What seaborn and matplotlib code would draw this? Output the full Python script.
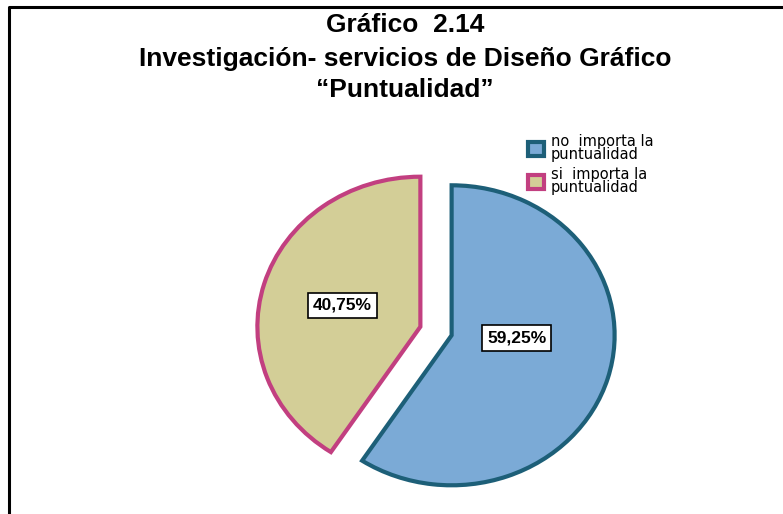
import matplotlib.pyplot as plt
import seaborn as sns
from matplotlib.lines import Line2D

# Datos
categorias = ['no  importa la\npuntualidad', 'si  importa la\npuntualidad']
porcentajes = [59.25, 40.75]
colores = ['#7BAAD6', '#D3CE97']
bordes = ['#1D5F78', '#C23F80']
titulo = ['Gráfico  2.14',
          'Investigación- servicios de Diseño Gráfico',
          '“Puntualidad”']

sns.set_theme(style='white')
plt.rcParams['font.family'] = ['Liberation Sans', 'DejaVu Sans']
plt.rcParams['text.color'] = 'black'

W, H = 783, 514
fig = plt.figure(figsize=(W / 100, H / 100), dpi=100)

# -------------------------------------------------------
# Pie (slightly wider than tall, like the original)
# -------------------------------------------------------
cx, cy, rx, ry = 436, 331, 163, 150
ax = fig.add_axes([(cx - 1.5 * rx) / W, (H - cy - 1.5 * ry) / H, 3 * rx / W, 3 * ry / H])

wedges, texts, autotexts = ax.pie(
    porcentajes, explode=[0.1, 0.1], startangle=90, counterclock=False,
    colors=colores, pctdistance=0.5,
    autopct=lambda p: f'{p:.2f}%'.replace('.', ','),
    wedgeprops=dict(linewidth=3),
    textprops=dict(fontsize=12.5, fontweight='bold', color='black'))
for w, b in zip(wedges, bordes):
    w.set_edgecolor(b)
for t in autotexts:
    t.set_bbox(dict(boxstyle='square,pad=0.3', fc='white', ec='black', lw=1.2))
# nudge the blue label toward the centre line of the slice
x0, y0 = autotexts[0].get_position()
autotexts[0].set_position((x0 - 0.08, y0 + 0.125))

ax.set_xlim(-1.5, 1.5)
ax.set_ylim(-1.5, 1.5)
ax.set_aspect('auto')
ax.axis('off')

# -------------------------------------------------------
# Legend
# -------------------------------------------------------
leg = ax.legend(wedges, categorias, loc='upper left',
                bbox_to_anchor=(528 / W, 1 - 134 / H), bbox_transform=fig.transFigure,
                frameon=False, handlelength=1.1, handleheight=1.1,
                handletextpad=0.45, labelspacing=0.4, borderpad=0, borderaxespad=0,
                prop=dict(family='DejaVu Sans', size=10.5, weight='medium'))
for t in leg.get_texts():
    t.set_linespacing(0.8)
    t.set_color('black')

# -------------------------------------------------------
# Title
# -------------------------------------------------------
for linea, base in zip(titulo, [32, 66, 97]):
    fig.text(405 / W, 1 - base / H, linea, ha='center', va='baseline',
             fontsize=19, fontweight='bold', color='black')

# Frame (left and top border)
fig.add_artist(Line2D([9 / W, 9 / W, 1], [0, 1 - 6.5 / H, 1 - 6.5 / H],
                      transform=fig.transFigure, color='black', linewidth=2.2))

fig.savefig('out.png', dpi=100)
